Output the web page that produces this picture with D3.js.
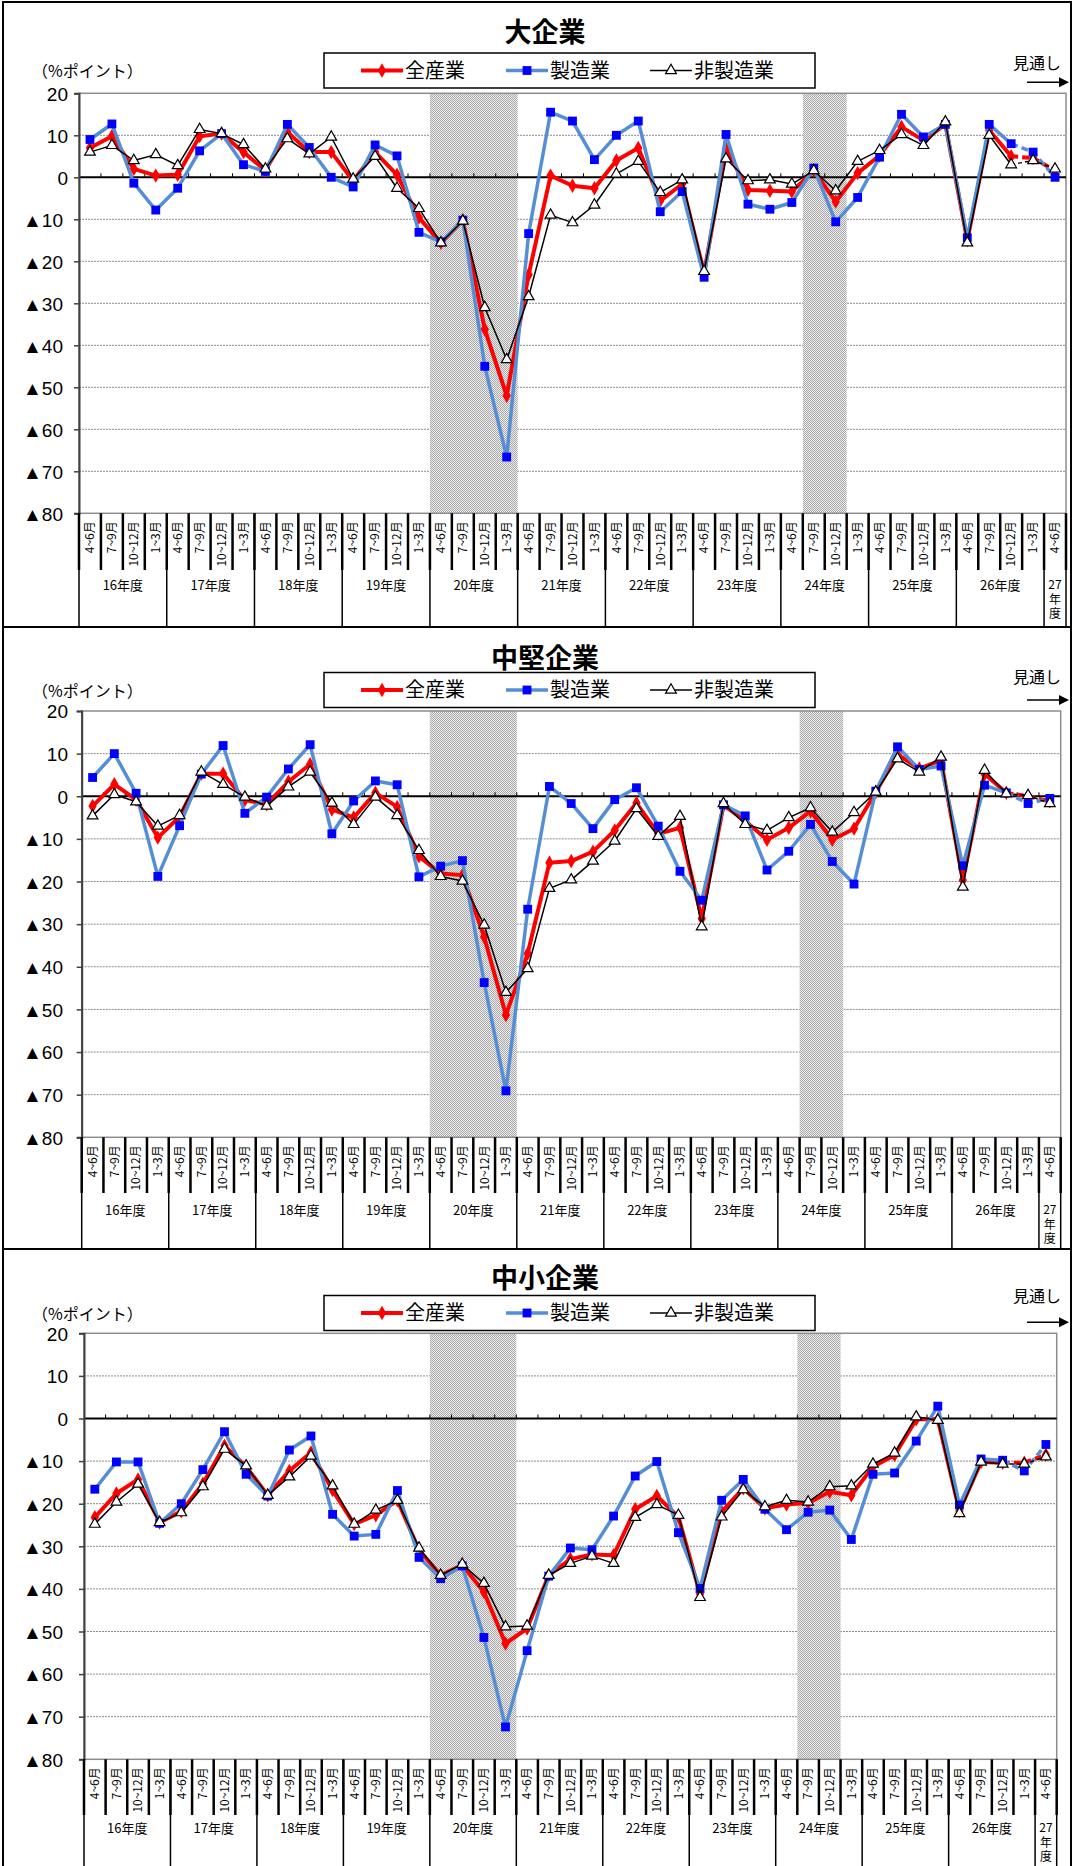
<!DOCTYPE html>
<html>
<head>
<meta charset="utf-8">
<script src="https://cdn.jsdelivr.net/npm/d3@7"></script>
<style>
  body { margin: 0; background: #fff; }
  svg { display: block; }
  text { font-family: "Noto Sans CJK JP", "Noto Sans", sans-serif; fill: #000; }
  .tick text { font-family: "Liberation Sans", "DejaVu Sans", sans-serif; font-size: 19px; }
</style>
</head>
<body>
<div class="chart"></div>
<script>
// categories
const fiscalYears = ['16年度', '17年度', '18年度', '19年度', '20年度', '21年度',
  '22年度', '23年度', '24年度', '25年度', '26年度', '27年度'];
const quarters = ['4~6月', '7~9月', '10~12月', '1~3月'];
const seriesNames = ['全産業', '製造業', '非製造業'];

// y axis
const yTicks = [20, 10, 0, -10, -20, -30, -40, -50, -60, -70, -80];
const yTickLabels = ['20', '10', '0', '▲10', '▲20', '▲30', '▲40', '▲50', '▲60', '▲70', '▲80'];

// shaded periods (category index from, to) and first index of the forecast part
const shadedSpans = [[16, 19], [33, 34]];
const forecastFrom = 42;

// 大企業
const largeAll = [7.0, 9.8, 2.0, 0.4, 0.6, 9.8, 10.4, 6.0, 1.6, 10.8, 6.0, 6.0, -0.8, 6.0, 0.6, -9.6,
  -15.6, -10.2, -36.2, -52.0, -23.2, 0.4, -2.0, -2.6, 4.0, 7.0, -5.6, -1.6, -22.8, 6.8, -3.0, -3.2,
  -3.4, 1.6, -5.8, 1.0, 5.2, 12.0, 8.8, 12.6, -15.0, 11.2, 5.0, 4.6, 1.6];
const largeMfg = [9.0, 12.7, -1.4, -7.8, -2.6, 6.3, 10.4, 3.0, 1.4, 12.6, 7.1, 0.0, -2.3, 7.7, 5.1, -13.1,
  -15.4, -10.2, -45.0, -66.6, -13.4, 15.5, 13.4, 4.2, 10.0, 13.4, -8.2, -3.4, -23.8, 10.2, -6.4, -7.6,
  -6.0, 2.2, -10.6, -4.8, 4.8, 15.0, 9.6, 12.6, -14.4, 12.6, 8.0, 6.0, 0.0];
const largeNon = [6.0, 7.6, 4.0, 5.4, 2.8, 11.4, 10.4, 7.8, 2.0, 9.2, 5.6, 9.6, -0.4, 5.0, -2.6, -7.4,
  -15.6, -10.4, -31.0, -43.4, -28.4, -9.0, -10.8, -6.6, 0.8, 3.8, -3.6, -0.6, -22.4, 4.4, -0.8, -0.6,
  -1.6, 1.6, -3.2, 3.8, 6.4, 10.2, 7.6, 13.2, -15.6, 10.0, 3.0, 4.0, 2.0];

// 中堅企業
const midAll = [-2.3, 2.8, -0.8, -9.7, -4.8, 5.3, 5.3, -0.9, -1.9, 3.4, 7.5, -3.1, -5.0, 0.8, -2.5, -14.1,
  -18.1, -18.5, -33.0, -51.3, -36.9, -15.6, -15.2, -13.0, -8.0, -1.6, -8.8, -7.4, -28.7, -2.1, -5.8, -10.2,
  -7.4, -3.5, -10.2, -7.6, 1.0, 9.8, 6.5, 8.4, -19.7, 5.2, 0.8, 0.0, -1.2];
const midMfg = [4.4, 10.0, 0.7, -18.8, -6.9, 5.2, 11.9, -4.0, -0.2, 6.4, 12.1, -8.8, -1.1, 3.6, 2.7, -18.9,
  -16.4, -15.1, -43.7, -69.1, -26.5, 2.3, -1.7, -7.6, -0.8, 2.0, -7.0, -17.6, -24.4, -2.0, -4.6, -17.3,
  -12.9, -6.6, -15.3, -20.6, 1.2, 11.6, 6.3, 7.1, -16.3, 2.6, 0.8, -1.7, -0.5];
const midNon = [-4.6, 0.4, -1.3, -7.0, -4.5, 5.7, 2.8, -0.2, -2.3, 2.2, 5.7, -1.6, -6.6, -0.2, -4.5, -12.7,
  -18.8, -19.9, -30.2, -46.0, -40.4, -21.6, -19.6, -15.2, -10.5, -2.9, -9.4, -4.7, -30.6, -1.7, -6.6, -8.0,
  -5.0, -2.7, -8.4, -3.8, 1.0, 8.8, 5.7, 9.2, -21.3, 6.1, 0.6, 0.2, -1.7];

// 中小企業
const smallAll = [-23.2, -17.6, -14.3, -24.4, -21.8, -15.3, -6.4, -11.3, -18.0, -12.3, -8.0, -16.8, -24.8, -22.7, -19.2, -30.9,
  -36.8, -34.4, -40.7, -52.8, -49.3, -36.8, -33.0, -31.9, -32.1, -21.3, -18.2, -23.1, -41.2, -21.9, -16.4, -21.1,
  -20.2, -19.8, -17.2, -18.0, -11.3, -8.6, -0.2, -0.2, -21.7, -10.2, -10.4, -10.4, -8.5];
const smallMfg = [-16.6, -10.2, -10.2, -24.6, -20.0, -12.0, -3.1, -13.1, -18.2, -7.4, -4.1, -22.5, -27.6, -27.2, -16.9, -32.6,
  -37.6, -34.6, -51.4, -72.4, -54.5, -37.0, -30.4, -30.8, -22.9, -13.5, -10.1, -26.8, -39.9, -19.2, -14.3, -21.3,
  -26.1, -22.0, -21.5, -28.4, -13.1, -12.8, -5.3, 2.9, -20.3, -9.5, -9.8, -12.3, -6.1];
const smallNon = [-24.8, -19.6, -15.4, -24.4, -22.1, -16.0, -7.2, -11.1, -18.0, -13.7, -8.8, -15.8, -24.8, -21.5, -19.2, -30.4,
  -36.8, -34.2, -38.7, -48.9, -48.7, -36.8, -34.0, -32.3, -34.0, -23.2, -20.2, -22.7, -42.0, -23.1, -16.7, -20.7,
  -19.2, -19.6, -16.0, -15.8, -10.7, -8.1, 0.4, -0.4, -22.3, -10.2, -10.7, -10.7, -9.0];

// category list: every quarter of 16-26年度, then 27年度 4~6月
const categories = [];
fiscalYears.forEach((fy, k) => {
  const qs = k === fiscalYears.length - 1 ? quarters.slice(0, 1) : quarters;
  qs.forEach(q => categories.push({ year: k, quarter: q }));
});

// panel layout
const panels = [
  { title: '大企業', series: [largeAll, largeMfg, largeNon], titleY: 32, legendY: 70.5, noteY: 63,
    left: 79, right: 1066, top: 93.3, bottom: 513.3, monthBottom: 570, yearY: 585, panelBottom: 627 },
  { title: '中堅企業', series: [midAll, midMfg, midNon], titleY: 658, legendY: 690, noteY: 677,
    left: 81.7, right: 1060.7, top: 711, bottom: 1137.3, monthBottom: 1193, yearY: 1210, panelBottom: 1249 },
  { title: '中小企業', series: [smallAll, smallMfg, smallNon], titleY: 1278, legendY: 1313, noteY: 1296,
    left: 84, right: 1056.7, top: 1333.3, bottom: 1759.3, monthBottom: 1815, yearY: 1828, panelBottom: 1866 }
];

const styles = [
  { line: '#ff0000', width: 4, symbol: d3.symbolDiamond, size: 60, fill: '#ff0000', stroke: 'none', dash: '7,4' },
  { line: '#558ed5', width: 3.5, symbol: d3.symbolSquare, size: 78, fill: '#0000ff', stroke: 'none', dash: '7,4' },
  { line: '#000000', width: 1.5, symbol: d3.symbolTriangle, size: 50, fill: '#ffffff', stroke: '#000000', dash: '4,3' }
];

const svg = d3.select('.chart')
  .append('svg')
    .attr('width', 1073)
    .attr('height', 1866);

//checker pattern for shaded periods
const pat = svg.append('defs').append('pattern')
  .attr('id', 'shade')
  .attr('width', 2).attr('height', 2)
  .attr('patternUnits', 'userSpaceOnUse');
pat.append('rect').attr('width', 2).attr('height', 2).attr('fill', '#ededed');
pat.append('rect').attr('width', 1).attr('height', 1).attr('fill', '#a8a8a8');
pat.append('rect').attr('x', 1).attr('y', 1).attr('width', 1).attr('height', 1).attr('fill', '#a8a8a8');

function drawPanel (p) {
  const g = svg.append('g');

  const x = d3.scaleBand()
    .domain(d3.range(categories.length))
    .range([p.left, p.right]);
  const bw = x.bandwidth();
  const cx = i => x(i) + bw / 2;

  const y = d3.scaleLinear()
    .domain([-80, 20])
    .range([p.bottom, p.top]);

  //gridlines
  g.selectAll('.grid')
    .data(yTicks.filter(d => d !== 0 && d !== 20 && d !== -80))
    .enter().append('line')
      .attr('x1', p.left).attr('x2', p.right)
      .attr('y1', d => y(d)).attr('y2', d => y(d))
      .attr('stroke', '#8c8c8c')
      .attr('stroke-width', 1)
      .attr('stroke-dasharray', '2,1');

  //shaded periods
  g.selectAll('.shade')
    .data(shadedSpans)
    .enter().append('rect')
      .attr('x', d => x(d[0]))
      .attr('y', p.top)
      .attr('width', d => x(d[1]) + bw - x(d[0]))
      .attr('height', p.bottom - p.top)
      .attr('fill', 'url(#shade)');

  //plot frame
  g.append('rect')
    .attr('x', p.left).attr('y', p.top)
    .attr('width', p.right - p.left).attr('height', p.bottom - p.top)
    .attr('fill', 'none')
    .attr('stroke', '#8c8c8c')
    .attr('stroke-width', 1.5);

  //zero line with small ticks
  g.append('line')
    .attr('x1', p.left).attr('x2', p.right)
    .attr('y1', y(0)).attr('y2', y(0))
    .attr('stroke', '#000').attr('stroke-width', 2);
  g.selectAll('.ztick')
    .data(d3.range(1, categories.length))
    .enter().append('line')
      .attr('x1', d => x(d)).attr('x2', d => x(d))
      .attr('y1', y(0)).attr('y2', y(0) - 4)
      .attr('stroke', '#000').attr('stroke-width', 1);

  //y axis
  const yAxis = g.append('g')
    .attr('transform', `translate(${p.left},0)`)
    .call(d3.axisLeft(y).tickValues(yTicks).tickSize(5).tickFormat((d, i) => yTickLabels[i]));
  yAxis.select('.domain').attr('stroke', '#404040').attr('stroke-width', 2);
  yAxis.selectAll('.tick line').attr('stroke', '#404040').attr('stroke-width', 1.5);
  yAxis.selectAll('.tick text')
    .attr('x', d => (d < 0 ? 63 : 68) - p.left)
    .attr('dy', '0.36em');

  //series
  styles.forEach((s, k) => {
    const pts = p.series[k].map((v, i) => ({ i, v }));
    const line = d3.line().x(d => cx(d.i)).y(d => y(d.v));

    g.append('path')
      .attr('d', line(pts.slice(0, forecastFrom + 1)))
      .attr('fill', 'none')
      .attr('stroke', s.line)
      .attr('stroke-width', s.width)
      .attr('stroke-linejoin', 'round');
    g.append('path')
      .attr('d', line(pts.slice(forecastFrom)))
      .attr('fill', 'none')
      .attr('stroke', s.line)
      .attr('stroke-width', s.width)
      .attr('stroke-dasharray', s.dash);

    g.selectAll('.m' + k)
      .data(pts)
      .enter().append('path')
        .attr('transform', d => `translate(${cx(d.i)},${y(d.v)})`)
        .attr('d', d3.symbol().type(s.symbol).size(s.size))
        .attr('fill', s.fill)
        .attr('stroke', s.stroke)
        .attr('stroke-width', 1.2);
  });

  //label table: month separators and year separators
  g.selectAll('.msep')
    .data(d3.range(categories.length + 1))
    .enter().append('line')
      .attr('x1', d => p.left + d * bw).attr('x2', d => p.left + d * bw)
      .attr('y1', p.bottom).attr('y2', p.monthBottom)
      .attr('stroke', '#000').attr('stroke-width', 2.5);

  const yearStarts = d3.range(categories.length).filter(i => i === 0 || categories[i].year !== categories[i - 1].year);
  yearStarts.push(categories.length);
  g.selectAll('.ysep')
    .data(yearStarts)
    .enter().append('line')
      .attr('x1', d => p.left + d * bw).attr('x2', d => p.left + d * bw)
      .attr('y1', p.bottom).attr('y2', p.panelBottom)
      .attr('stroke', '#000').attr('stroke-width', 1.5);

  //month labels
  g.selectAll('.month')
    .data(categories)
    .enter().append('text')
      .attr('transform', (d, i) => `translate(${cx(i)},${p.bottom + 8}) rotate(-90)`)
      .attr('text-anchor', 'end')
      .attr('dy', '0.36em')
      .style('font-size', '12px')
      .text(d => d.quarter);

  //year labels
  fiscalYears.forEach((fy, k) => {
    const idx = d3.range(categories.length).filter(i => categories[i].year === k);
    const mid = (x(idx[0]) + x(idx[idx.length - 1]) + bw) / 2;
    const t = g.append('text')
      .attr('x', mid)
      .attr('y', p.yearY)
      .attr('text-anchor', 'middle')
      .attr('dy', '0.36em')
      .style('font-size', idx.length === 1 ? '12px' : '13px');
    if (idx.length === 1) {
      [fy.slice(0, 2), '年', '度'].forEach((c, j) => {
        t.append('tspan').attr('x', mid).attr('dy', j === 0 ? '0.36em' : '1.2em').text(c);
      });
    } else {
      t.text(fy);
    }
  });

  //title
  g.append('text')
    .attr('x', 545).attr('y', p.titleY)
    .attr('text-anchor', 'middle')
    .attr('dy', '0.36em')
    .style('font-size', '27px')
    .style('font-weight', 'bold')
    .text(p.title);

  //unit
  g.append('text')
    .attr('x', 32).attr('y', p.legendY + 1)
    .attr('dy', '0.36em')
    .style('font-size', '16px')
    .text('（%ポイント）');

  //forecast note and arrow
  g.append('text')
    .attr('x', 1037).attr('y', p.noteY)
    .attr('text-anchor', 'middle')
    .attr('dy', '0.36em')
    .style('font-size', '16px')
    .text('見通し');
  g.append('line')
    .attr('x1', 1027).attr('x2', 1060)
    .attr('y1', p.top - 11).attr('y2', p.top - 11)
    .attr('stroke', '#000').attr('stroke-width', 1.5);
  g.append('path')
    .attr('d', `M1069,${p.top - 11} l-10,-5 v10 z`)
    .attr('fill', '#000');

  //legend
  const lg = g.append('g').attr('transform', `translate(0,${p.legendY})`);
  lg.append('rect')
    .attr('x', 324).attr('y', -17.5)
    .attr('width', 491).attr('height', 35)
    .attr('fill', '#fff')
    .attr('stroke', '#000')
    .attr('stroke-width', 1.5);
  const legendX = [361, 506, 650];
  styles.forEach((s, k) => {
    lg.append('line')
      .attr('x1', legendX[k]).attr('x2', legendX[k] + 42)
      .attr('stroke', s.line).attr('stroke-width', s.width);
    lg.append('path')
      .attr('transform', `translate(${legendX[k] + 21},0)`)
      .attr('d', d3.symbol().type(s.symbol).size(s.size))
      .attr('fill', s.fill)
      .attr('stroke', s.stroke)
      .attr('stroke-width', 1.2);
    lg.append('text')
      .attr('x', legendX[k] + 44)
      .attr('dy', '0.36em')
      .style('font-size', '20px')
      .text(seriesNames[k]);
  });
}

panels.forEach(drawPanel);

//outer frame and panel separators
svg.append('rect')
  .attr('x', 3).attr('y', 2)
  .attr('width', 1068).attr('height', 1880)
  .attr('fill', 'none')
  .attr('stroke', '#000')
  .attr('stroke-width', 2);
svg.selectAll('.psep')
  .data(panels.slice(0, 2))
  .enter().append('line')
    .attr('x1', 3).attr('x2', 1071)
    .attr('y1', d => d.panelBottom).attr('y2', d => d.panelBottom)
    .attr('stroke', '#000')
    .attr('stroke-width', 2);
</script>
</body>
</html>
